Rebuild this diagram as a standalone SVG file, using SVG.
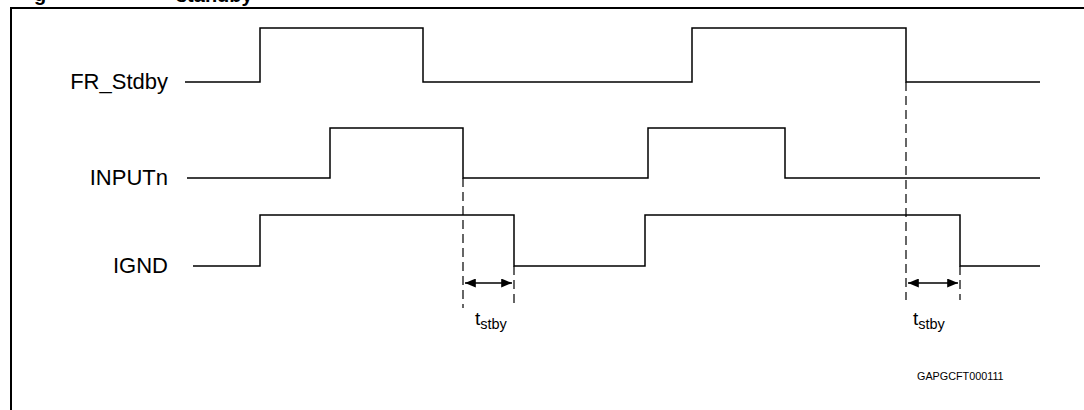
<svg xmlns="http://www.w3.org/2000/svg" width="1084" height="410" viewBox="0 0 1084 410">
<style>
.sig{fill:none;stroke:#000;stroke-width:1.5}
.dash{fill:none;stroke:#000;stroke-width:1.2;stroke-dasharray:9,5}
.arr{fill:none;stroke:#000;stroke-width:1.5;marker-start:url(#ah);marker-end:url(#ah)}
.lbl{font-family:"Liberation Sans",Arial,sans-serif;font-size:22px;fill:#000}
.t{font-family:"Liberation Sans",Arial,sans-serif;font-size:19px;fill:#000}
.sub{font-size:14.5px}
.title{font-family:"Liberation Sans",Arial,sans-serif;font-size:20px;font-weight:bold;fill:#000}
.code{font-family:"Liberation Sans",Arial,sans-serif;font-size:10.8px;fill:#000}
</style>
<defs>
<marker id="ah" viewBox="0 0 12 10" refX="12" refY="5" markerWidth="12" markerHeight="9" markerUnits="userSpaceOnUse" orient="auto-start-reverse">
<path d="M0,0 L12,5 L0,10 z" fill="#000"/>
</marker>
</defs>
<rect width="1084" height="410" fill="#fff"/>
<text class="title" x="34" y="1">g</text>
<text class="title" x="176" y="2">standby</text>
<path d="M11,410 V8 H1084" fill="none" stroke="#000" stroke-width="2"/>
<g id="FR_Stdby">
<text class="lbl" x="168" y="89" text-anchor="end">FR_Stdby</text>
<path class="sig" d="M185,82 H260 V28 H423 V82 H692 V28 H906 V82 H1040"/>
</g>
<g id="INPUTn">
<text class="lbl" x="168" y="185" text-anchor="end">INPUTn</text>
<path class="sig" d="M187,178 H330 V128 H463 V178 H648 V128 H785 V178 H1040"/>
</g>
<g id="IGND">
<text class="lbl" x="168" y="273" text-anchor="end">IGND</text>
<path class="sig" d="M193,266 H260 V215 H514 V266 H645 V215 H960 V266 H1040"/>
</g>
<g id="connectors">
<path class="dash" d="M463,178 V308"/>
<path class="dash" d="M514,266 V308"/>
<path class="dash" d="M906,82 V300"/>
<path class="dash" d="M960,266 V300"/>
<path class="arr" d="M465,283 H512"/>
<path class="arr" d="M908,283 H958"/>
</g>
<g id="tstby1">
<text class="t" x="475" y="325">t<tspan class="sub" dy="4">stby</tspan></text>
</g>
<g id="tstby2">
<text class="t" x="913" y="325">t<tspan class="sub" dy="4">stby</tspan></text>
</g>
<text class="code" x="917" y="380">GAPGCFT000111</text>
</svg>
